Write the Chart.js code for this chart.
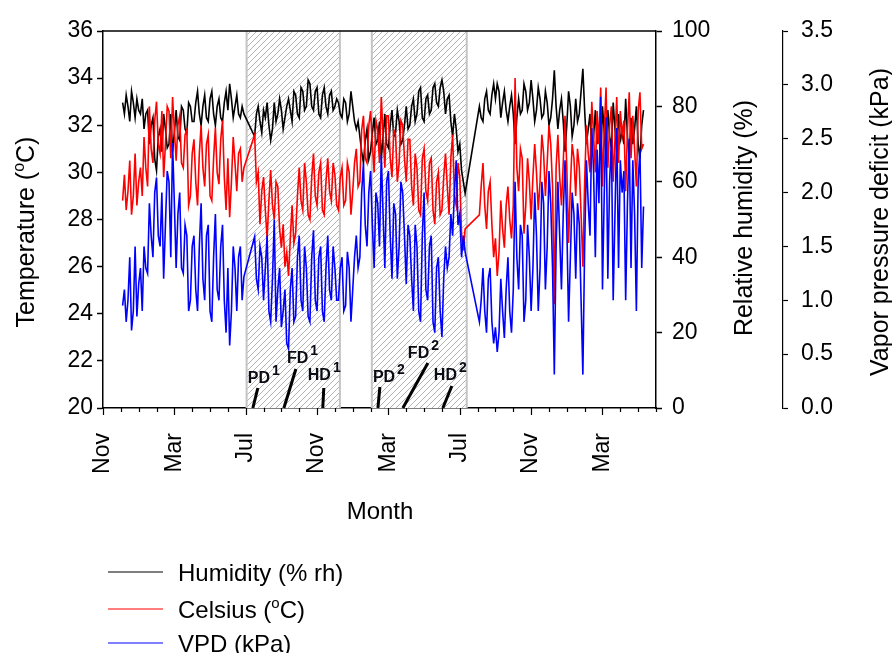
<!DOCTYPE html>
<html>
<head>
<meta charset="utf-8">
<script src="https://cdn.jsdelivr.net/npm/chart.js@4.4.1/dist/chart.umd.min.js"></script>
<style>
  html, body { margin: 0; padding: 0; background: #fff; }
  #wrap { width: 892px; height: 653px; }
</style>
</head>
<body>
<div id="wrap"><canvas id="climateChart" width="892" height="653"></canvas></div>
<script>
// readings every ~3 days, x in months counted from 1 Nov of the first year
const startMonth = 1.1;
const stepMonth = 0.1;
const monthNames = ['Nov', 'Dec', 'Jan', 'Feb', 'Mar', 'Apr', 'May', 'Jun', 'Jul', 'Aug', 'Sep', 'Oct'];
const xMax = 31;

// relative humidity (%), null = logger gap
const humidity = [
  81, 78, 83, 80, 76, 84, 81, 77, 82, 79, 78, 82,
  74, 78, 79, 70, 75, 77, 66, 63, 72, 74, 68, 78,
  74, 69, 70, 78, 68, 73, 79, 72, 71, 80, 79, 74, 73, 81, 80, 76,
  76, 81, 84, 78, 75, 80, 83, 77, 76, 82, 84, 78, 75, 80, 82, 77, 76, 81, 84, 79, 86, 82, 77, 80, 83, 78, 77, 80, 78,
  null, null, null, null, null,
  72,
  78, 80, 76, 73, 79, 77, 81, 75, 71, 74, 81, 76, 78, 82, 79, 74, 77, 80,
  82, 79, 76, 84, 83, 78, 77, 85, 84, 79, 80, 87, 86, 80, 79, 84, 85, 78, 77, 83, 85, 80, 78, 83, 84, 79, 80, 82,
  81, 78, 77, 82, 81, 76, 78, 84, 80, 76,
  74, 76, 72, 68, 65, 71, 74, 66,
  68, 73, 77, 70, 71, 76, 66, 72, 78, 70, 69, 75, 79, 72, 73, 79, 76, 70, 71, 75, 80, 74,
  75, 80, 82, 76, 78, 84, 85, 77, 76, 82, 83, 78, 79, 85, 86, 81, 80, 85, 87, 84,
  78, 82, 83, 76, 72, 78, 74, 68, 70, 63, 60, 57,
  null, null, null, null, null, null, null,
  80, 77, 76, 82, 84, 79, 78, 83, 86, 82, 86, 84, 77, 81, 84, 79, 76, 80, 83, 78,
  70, 77,
  82, 78, 79, 86, 84, 79, 81, 87, 82, 76, 79, 85, 82, 77, 78, 84, 81, 75, 77, 82, 89.6, 80,
  74, 79, 82, 76, 68, 75, 84, 80, 72, 75, 82, 76, 78, 84, 90, 79, 70, 74,
  78, 68, 72, 79, 70, 74, 66, 80, 73, 67, 79, 72, 69, 81, 74, 68, 78, 71, 73, 70, 82, 72, 66, 77, 70, 74, 80, 70, 66, 75, 79
];

// air temperature (deg C)
const celsius = [
  28.8, 29.9, 28.4, 29.2, 30.5, 28.2, 29.0, 30.8, 28.6, 29.6, 30.2, 29.0,
  31.5, 30.2, 29.4, 32.8, 31.0, 30.4, 32.2, 33.0, 31.2, 30.8, 32.6, 29.8,
  31.2, 32.8, 32.6, 30.6, 33.2, 31.8, 30.5, 32.0, 32.4, 30.4, 30.2, 31.6, 31.8, 28.6, 29.0, 30.8,
  31.4, 29.6, 28.6, 30.8, 32.0, 30.2, 29.4, 31.2, 31.6, 29.0, 28.8, 30.6, 31.9, 30.0, 29.5, 31.4, 32.2, 29.8, 28.4, 30.6, 28.1, 29.6, 31.5, 30.4, 29.2, 30.8, 31.0, 29.6, 30.2,
  null, null, null, null, null,
  31.6,
  29.6, 30.0, 27.8, 29.2, 29.8, 28.4, 27.2, 28.8, 30.1, 28.6, 28.0, 29.6, 29.4, 27.6, 26.8, 27.8, 26.0, 26.6,
  25.6, 27.2, 28.6, 27.0, 27.4, 29.0, 30.2, 28.8, 28.4, 30.4, 29.6, 28.2, 28.0, 29.8, 30.8, 29.0, 28.6, 30.0, 30.4, 28.4, 28.2, 29.6, 30.6, 29.2, 28.8, 30.4, 29.9, 28.6,
  28.4, 29.8, 30.2, 28.6, 28.8, 30.4, 30.0, 28.2, 29.2, 30.4,
  31.0, 29.4, 29.6, 31.8, 32.4, 30.6, 30.4, 32.0,
  32.6, 31.2, 30.0, 32.2, 31.8, 30.4, 33.2, 31.6, 30.2, 32.4, 32.4, 30.6, 29.8, 31.8, 31.6, 29.6, 30.4, 32.2, 32.0, 30.6, 29.6, 31.4,
  31.4, 29.4, 28.6, 30.8, 30.2, 28.4, 28.2, 30.6, 31.0, 29.2, 28.8, 30.4, 30.6, 28.4, 27.8, 29.6, 30.0, 28.2, 28.4, 29.8,
  30.8, 29.4, 28.2, 30.6, 31.6, 29.0, 28.6, 30.4, 29.8, 27.4, 26.7, 27.6,
  null, null, null, null, null, null, null,
  28.2, 29.4, 30.4, 28.6, 27.6, 29.2, 29.6, 27.8, 26.4, 27.2, 25.6, 26.6, 28.8, 27.6, 26.8, 28.6, 29.4, 28.0, 27.2, 28.6,
  34.0, 30.2,
  29.2, 31.0, 30.6, 27.4, 28.6, 30.6, 29.6, 28.0, 29.8, 31.2, 30.0, 28.4, 29.6, 31.6, 30.8, 29.0, 30.4, 32.0, 31.2, 29.4, 24.4, 30.2,
  31.6, 29.8, 28.6, 30.4, 32.4, 30.2, 27.0, 29.4, 31.2, 30.6, 29.0, 31.0, 30.2, 28.2, 26.0, 29.6, 32.0, 30.8,
  30.0, 33.0, 31.6, 30.0, 32.6, 31.2, 33.6, 29.4, 31.8, 33.6, 30.2, 32.0, 32.8, 29.6, 31.4, 33.2, 30.4, 32.6, 31.6, 32.2, 29.2, 31.8, 33.4, 30.6, 32.4, 31.0, 29.4, 32.6, 33.4, 31.0, 31.2
];

// vapour pressure deficit (kPa)
const vpd = [
  0.95, 1.1, 0.8, 1.0, 1.4, 0.72, 0.9, 1.5, 0.85, 1.15, 1.3, 0.9,
  1.5, 1.3, 1.25, 1.9, 1.6, 1.4, 2.0, 2.14, 1.6, 1.5, 2.0, 1.2,
  1.7, 2.2, 2.1, 1.4, 2.46, 1.9, 1.3, 1.8, 2.0, 1.3, 1.25, 1.7, 1.6, 0.9, 1.0, 1.5,
  1.6, 1.1, 0.9, 1.5, 1.9, 1.2, 1.0, 1.6, 1.7, 0.9, 0.8, 1.4, 1.8, 1.1, 1.0, 1.5, 1.7, 1.0, 0.7, 1.3, 0.58, 0.9, 1.5, 1.3, 0.9, 1.4, 1.5, 1.0, 1.22,
  null, null, null, null, null,
  1.59,
  1.2, 1.1, 1.5, 1.4, 1.0, 1.3, 1.6, 0.9, 0.8, 1.2, 1.75, 0.8, 1.1, 1.3, 0.75, 0.9, 1.1, 0.6,
  0.55, 1.1, 1.3, 0.8, 0.85, 1.4, 1.6, 1.0, 0.9, 1.5, 1.3, 0.85, 0.8, 1.4, 1.65, 1.0, 0.9, 1.4, 1.5, 0.9, 0.8, 1.3, 1.6, 1.1, 1.0, 1.5, 1.3, 1.0,
  1.0, 1.3, 1.4, 0.9, 0.95, 1.45, 1.3, 0.8, 1.1, 1.4,
  1.6, 1.3, 1.4, 2.0, 2.27, 1.7, 1.5, 2.0,
  2.2, 1.7, 1.3, 2.0, 1.9, 1.5, 2.35, 1.8, 1.3, 2.1, 2.2, 1.6, 1.2, 1.9, 1.8, 1.2, 1.5, 2.1, 2.0, 1.6, 1.15, 1.7,
  1.6, 1.2, 0.9, 1.7, 1.5, 0.9, 0.8, 1.6, 2.0, 1.1, 1.0, 1.5, 1.6, 0.8, 0.7, 1.3, 1.4, 0.9, 0.66, 1.2,
  1.5, 1.3, 1.4, 1.8, 1.6, 2.0, 2.3, 1.7, 1.8, 1.4, 1.6, 1.45,
  null, null, null, null, null, null, null,
  0.8, 1.0, 1.3, 0.9, 0.7, 1.2, 1.3, 0.8, 0.6, 0.75, 0.52, 0.7, 1.2, 0.9, 0.65, 1.1, 1.4, 0.9, 0.7, 1.1,
  2.1, 1.4,
  1.1, 1.7, 1.6, 0.8, 1.0, 1.7, 1.4, 0.9, 1.3, 2.0, 1.6, 0.9, 1.3, 2.1, 1.9, 1.1, 1.5, 2.2, 1.9, 1.3, 0.31, 1.5,
  2.1, 1.6, 1.1, 1.8, 2.3, 1.7, 0.8, 1.4, 2.0, 1.8, 1.2, 1.9, 1.7, 1.0, 0.31, 1.5, 2.3, 1.9,
  1.6, 2.6, 2.2, 1.4, 2.4, 1.9, 2.89, 1.1, 2.0, 2.7, 1.2, 2.1, 2.5, 1.0, 1.8, 2.6, 1.3, 2.3, 2.0, 2.2, 1.0, 1.9, 2.5, 1.3, 2.3, 1.8, 0.9, 2.1, 2.4, 1.3, 1.87
];

// the two cropping seasons (shaded) and their dates
const seasons = [[8.05, 13.28], [15.07, 20.39]];
const eventNames = ['PD', 'FD', 'HD', 'PD', 'FD', 'HD'];
const eventSeason = ['1', '1', '1', '2', '2', '2'];
const eventMonths = [8.40, 10.14, 12.32, 15.41, 16.81, 19.05];

const FONT = '"Liberation Sans", Arial, Helvetica, sans-serif';

function toPoints(arr) {
  return arr.map((v, i) => ({ x: startMonth + i * stepMonth, y: v }));
}

function makeHatch(ctx) {
  const c = document.createElement('canvas');
  c.width = 6; c.height = 6;
  const g = c.getContext('2d');
  g.fillStyle = '#ffffff';
  g.fillRect(0, 0, 6, 6);
  g.strokeStyle = '#b4b4b4';
  g.lineWidth = 1;
  g.beginPath();
  g.moveTo(0, 6); g.lineTo(6, 0);
  g.moveTo(-1, 1); g.lineTo(1, -1);
  g.moveTo(5, 7); g.lineTo(7, 5);
  g.stroke();
  return ctx.createPattern(c, 'repeat');
}

// text with a superscript part, e.g. (oC)
function richText(ctx, parts, x, y, size, angle, align) {
  const big = size + 'px ' + FONT;
  const small = Math.round(size * 0.62) + 'px ' + FONT;
  ctx.save();
  ctx.translate(x, y);
  ctx.rotate(angle || 0);
  ctx.fillStyle = '#000';
  ctx.textAlign = 'left';
  ctx.textBaseline = 'alphabetic';
  let w = 0;
  parts.forEach(p => { ctx.font = p.sup ? small : big; w += ctx.measureText(p.t).width; });
  let cx = align === 'left' ? 0 : -w / 2;
  const base = size * 0.36;
  parts.forEach(p => {
    ctx.font = p.sup ? small : big;
    ctx.fillText(p.t, cx, p.sup ? base - size * 0.42 : base);
    cx += ctx.measureText(p.t).width;
  });
  ctx.restore();
}

const decor = {
  id: 'decor',
  beforeDatasetsDraw(chart) {
    const { ctx, chartArea: a } = chart;
    const x = chart.scales.x;
    ctx.save();
    const hatch = makeHatch(ctx);
    seasons.forEach(([m0, m1]) => {
      const x0 = x.getPixelForValue(m0), x1 = x.getPixelForValue(m1);
      ctx.fillStyle = hatch;
      ctx.fillRect(x0, a.top, x1 - x0, a.bottom - a.top);
      ctx.strokeStyle = '#c4c4c4';
      ctx.lineWidth = 2;
      ctx.beginPath();
      ctx.moveTo(x0, a.top); ctx.lineTo(x0, a.bottom);
      ctx.moveTo(x1, a.top); ctx.lineTo(x1, a.bottom);
      ctx.stroke();
    });
    ctx.restore();
  },
  afterDraw(chart) {
    const { ctx, chartArea: a } = chart;
    const x = chart.scales.x;
    ctx.save();
    // top of the frame
    ctx.strokeStyle = '#000';
    ctx.lineWidth = 1.5;
    ctx.beginPath();
    ctx.moveTo(a.left, a.top); ctx.lineTo(a.right, a.top);
    ctx.stroke();

    // month ticks, longer every 4th month
    ctx.lineWidth = 1.2;
    ctx.beginPath();
    for (let m = 0; m <= xMax; m++) {
      const px = Math.round(x.getPixelForValue(m)) + 0.5;
      ctx.moveTo(px, a.bottom);
      ctx.lineTo(px, a.bottom + (m % 4 === 0 ? 7 : 4));
    }
    ctx.stroke();

    // crop dates: label offset, baseline, top of pointer
    const lay = [[-5, 383, 5, 388], [3, 363, 12, 369], [-15, 380, 1, 388],
                 [-5, 382, 2, 387], [5, 358, 25, 363], [-9, 380, 9, 386]];
    eventMonths.forEach((m, i) => {
      const px = x.getPixelForValue(m);
      const [dx, by, lx, ly] = lay[i];
      ctx.strokeStyle = '#000';
      ctx.lineWidth = 3;
      ctx.beginPath();
      ctx.moveTo(px + lx, ly); ctx.lineTo(px, a.bottom);
      ctx.stroke();
      ctx.fillStyle = '#0a0a14';
      ctx.textAlign = 'left';
      ctx.textBaseline = 'alphabetic';
      ctx.font = 'bold 16px ' + FONT;
      ctx.fillText(eventNames[i], px + dx, by);
      const w = ctx.measureText(eventNames[i]).width;
      ctx.font = 'bold 14px ' + FONT;
      ctx.fillText(eventSeason[i], px + dx + w + 2, by - 8);
    });
    ctx.restore();

    // axis titles
    richText(ctx, [{ t: 'Temperature (' }, { t: 'o', sup: true }, { t: 'C)' }], 25, 232, 25, -Math.PI / 2);
    richText(ctx, [{ t: 'Relative humidity (%)' }], 743, 218, 25, -Math.PI / 2);
    richText(ctx, [{ t: 'Vapor pressure deficit (kPa)' }], 879, 222, 25, -Math.PI / 2);
    richText(ctx, [{ t: 'Month' }], 380, 510, 24, 0);

    // legend
    const rows = [
      { c: '#000000', y: 572, parts: [{ t: 'Humidity (% rh)' }] },
      { c: '#ff0000', y: 609, parts: [{ t: 'Celsius (' }, { t: 'o', sup: true }, { t: 'C)' }] },
      { c: '#0000ff', y: 643, parts: [{ t: 'VPD (kPa)' }] }
    ];
    rows.forEach(r => {
      ctx.save();
      ctx.strokeStyle = r.c;
      ctx.lineWidth = 1.2;
      ctx.beginPath();
      ctx.moveTo(108, r.y); ctx.lineTo(163, r.y);
      ctx.stroke();
      ctx.restore();
      richText(ctx, r.parts, 178, r.y, 24, 0, 'left');
    });
  }
};

const tickFont = { family: FONT, size: 23 };

new Chart(document.getElementById('climateChart'), {
  type: 'line',
  data: {
    datasets: [
      { label: 'VPD (kPa)', data: toPoints(vpd), yAxisID: 'yV', borderColor: '#0000ff', order: 1 },
      { label: 'Celsius (oC)', data: toPoints(celsius), yAxisID: 'y', borderColor: '#ff0000', order: 2 },
      { label: 'Humidity (% rh)', data: toPoints(humidity), yAxisID: 'yH', borderColor: '#000000', order: 3 }
    ]
  },
  options: {
    responsive: false,
    devicePixelRatio: 1,
    animation: false,
    parsing: false,
    layout: { padding: { top: 31, left: 0, right: 0, bottom: 0 } },
    elements: {
      line: { borderWidth: 1.6, tension: 0 },
      point: { radius: 0 }
    },
    datasets: { line: { spanGaps: true } },
    plugins: { legend: { display: false }, tooltip: { enabled: false } },
    scales: {
      x: {
        type: 'linear', min: 0, max: xMax,
        afterBuildTicks: s => {
          s.ticks = [];
          for (let m = 0; m <= xMax; m++) s.ticks.push({ value: m });
        },
        ticks: {
          autoSkip: false, minRotation: 90, maxRotation: 90, padding: 25,
          font: tickFont, color: '#000',
          callback: v => (v % 4 === 0 ? monthNames[v % 12] : '')
        },
        grid: { display: false, drawTicks: false },
        border: { display: true, color: '#000', width: 1.5 },
        afterFit: s => { s.height = 245; }
      },
      y: {
        position: 'left', min: 20, max: 36,
        ticks: { stepSize: 2, font: tickFont, color: '#000', padding: 4 },
        grid: { drawOnChartArea: false, tickLength: 6, tickColor: '#000', tickWidth: 1.5 },
        border: { color: '#000', width: 1.5 },
        afterFit: s => { s.width = 103; }
      },
      yH: {
        position: 'right', min: 0, max: 100, weight: 0,
        ticks: { stepSize: 20, font: tickFont, color: '#000', padding: 10 },
        grid: { drawOnChartArea: false, tickLength: 6, tickColor: '#000', tickWidth: 1.5 },
        border: { color: '#000', width: 1.5 },
        afterFit: s => { s.width = 127; }
      },
      yV: {
        position: 'right', min: 0, max: 3.5, weight: 1,
        ticks: { stepSize: 0.5, font: tickFont, color: '#000', padding: 13, callback: v => v.toFixed(1) },
        grid: { drawOnChartArea: false, tickLength: 5, tickColor: '#000', tickWidth: 1.2 },
        border: { color: '#000', width: 1.2 },
        afterFit: s => { s.width = 109; }
      }
    }
  },
  plugins: [decor]
});
</script>
</body>
</html>
